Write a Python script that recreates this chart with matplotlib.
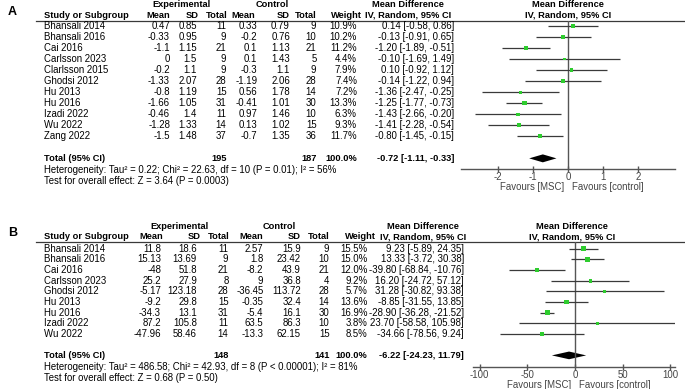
import matplotlib
matplotlib.use("Agg")
import matplotlib.pyplot as plt
import numpy as np

plt.rcParams['font.family'] = ['Liberation Sans', 'DejaVu Sans']

# ---- Panel A data ----
studiesA = ["Bhansali 2014", "Bhansali 2016", "Cai 2016", "Carlsson 2023", "Clarlsson 2015",
            "Ghodsi 2012", "Hu 2013", "Hu 2016", "Izadi 2022", "Wu 2022", "Zang 2022"]
expMeanA = [0.47, -0.33, -1.1, 0, -0.2, -1.33, -0.8, -1.66, -0.46, -1.28, -1.5]
expSdA = [0.85, 0.95, 1.15, 1.5, 1.1, 2.07, 1.19, 1.05, 1.4, 1.33, 1.48]
expNA = [11, 9, 21, 9, 9, 28, 15, 31, 11, 14, 37]
ctlMeanA = [0.33, -0.2, 0.1, 0.1, -0.3, -1.19, 0.56, -0.41, 0.97, 0.13, -0.7]
ctlSdA = [0.79, 0.76, 1.13, 1.43, 1.1, 2.06, 1.78, 1.01, 1.46, 1.02, 1.35]
ctlNA = [9, 10, 21, 5, 9, 28, 14, 30, 10, 15, 36]
weightA = [10.9, 10.2, 11.2, 4.4, 7.9, 7.4, 7.2, 13.3, 6.3, 9.3, 11.7]
mdA = [0.14, -0.13, -1.20, -0.10, 0.10, -0.14, -1.36, -1.25, -1.43, -1.41, -0.80]
loA = [-0.58, -0.91, -1.89, -1.69, -0.92, -1.22, -2.47, -1.77, -2.66, -2.28, -1.45]
hiA = [0.86, 0.65, -0.51, 1.49, 1.12, 0.94, -0.25, -0.73, -0.20, -0.54, -0.15]
totalA = {"expN": 195, "ctlN": 187, "md": -0.72, "lo": -1.11, "hi": -0.33}
hetA = "Heterogeneity: Tau\u00b2 = 0.22; Chi\u00b2 = 22.63, df = 10 (P = 0.01); I\u00b2 = 56%"
testA = "Test for overall effect: Z = 3.64 (P = 0.0003)"
ticksA = [-2, -1, 0, 1, 2]

# ---- Panel B data ----
studiesB = ["Bhansali 2014", "Bhansali 2016", "Cai 2016", "Carlsson 2023", "Ghodsi 2012",
            "Hu 2013", "Hu 2016", "Izadi 2022", "Wu 2022"]
expMeanB = [11.8, 15.13, -48, 25.2, -5.17, -9.2, -34.3, 87.2, -47.96]
expSdB = [18.6, 13.69, 51.8, 27.9, 123.18, 29.8, 13.1, 105.8, 58.46]
expNB = [11, 9, 21, 8, 28, 15, 31, 11, 14]
ctlMeanB = [2.57, 1.8, -8.2, 9, -36.45, -0.35, -5.4, 63.5, -13.3]
ctlSdB = [15.9, 23.42, 43.9, 36.8, 113.72, 32.4, 16.1, 86.3, 62.15]
ctlNB = [9, 10, 21, 4, 28, 14, 30, 10, 15]
weightB = [15.5, 15.0, 12.0, 9.2, 5.7, 13.6, 16.9, 3.8, 8.5]
mdB = [9.23, 13.33, -39.80, 16.20, 31.28, -8.85, -28.90, 23.70, -34.66]
loB = [-5.89, -3.72, -68.84, -24.72, -30.82, -31.55, -36.28, -58.58, -78.56]
hiB = [24.35, 30.38, -10.76, 57.12, 93.38, 13.85, -21.52, 105.98, 9.24]
totalB = {"expN": 148, "ctlN": 141, "md": -6.22, "lo": -24.23, "hi": 11.79}
hetB = "Heterogeneity: Tau\u00b2 = 486.58; Chi\u00b2 = 42.93, df = 8 (P < 0.00001); I\u00b2 = 81%"
testB = "Test for overall effect: Z = 0.68 (P = 0.50)"
ticksB = [-100, -50, 0, 50, 100]

W, H = 685, 389
fs = 6.9      # regular text
fsb = 6.7     # bold headers
lineCol = "#3a3a3a"
green = "#2ecc2e"

fig = plt.figure(figsize=(W / 100, H / 100), dpi=100)
bg = fig.add_axes([0, 0, 1, 1])
bg.set_xlim(0, W)
bg.set_ylim(H, 0)
bg.axis("off")


def fmt(v):
    return "%g" % v


def drawPanel(label, studies, expMean, expSd, expN, ctlMean, ctlSd, ctlN, weight, md, lo, hi,
              total, het, test, ticks, lay):
    y0, dy = lay["y0"], lay["dy"]
    lineY, axisY = lay["lineY"], lay["axisY"]
    c = lay["cols"]
    hc = lay["hcols"]

    # panel label and headers
    bg.text(8, lineY - 9, label, fontsize=9, fontweight="bold", va="center")
    hdr = dict(fontsize=fsb, fontweight="bold", va="center")
    bg.text(lay["expC"], lineY - 16, "Experimental", ha="center", **hdr)
    bg.text(lay["ctlC"], lineY - 16, "Control", ha="center", **hdr)
    bg.text(lay["mdC"], lineY - 16, "Mean Difference", ha="center", **hdr)
    bg.text(lay["mdC"], lineY - 5.5, "IV, Random, 95% CI", ha="center", **hdr)
    bg.text(lay["plotC"], lineY - 16, "Mean Difference", ha="center", **hdr)
    bg.text(lay["plotC"], lineY - 5.5, "IV, Random, 95% CI", ha="center", **hdr)
    bg.text(44, lineY - 5.5, "Study or Subgroup", **hdr)
    for x, t in zip(hc, ["Mean", "SD", "Total", "Mean", "SD", "Total", "Weight"]):
        bg.text(x, lineY - 5.5, t, ha="right", **hdr)
    bg.plot([36, W], [lineY, lineY], color=lineCol, lw=0.9)

    # study rows
    for i in range(len(studies)):
        y = y0 + dy * i
        bg.text(44, y, studies[i], fontsize=fs, va="center")
        vals = [fmt(expMean[i]), fmt(expSd[i]), str(expN[i]), fmt(ctlMean[i]), fmt(ctlSd[i]),
                str(ctlN[i]), "%.1f%%" % weight[i], "%.2f [%.2f, %.2f]" % (md[i], lo[i], hi[i])]
        for x, t in zip(c, vals):
            bg.text(x, y, t, fontsize=fs, ha="right", va="center")

    # total row
    nTot = len(studies) + 1
    yt = y0 + dy * nTot
    bold = dict(fontsize=fsb, fontweight="bold", va="center")
    bg.text(44, yt, "Total (95% CI)", **bold)
    bg.text(c[2], yt, str(total["expN"]), ha="right", **bold)
    bg.text(c[5], yt, str(total["ctlN"]), ha="right", **bold)
    bg.text(c[6], yt, "100.0%", ha="right", **bold)
    bg.text(c[7], yt, "%.2f [%.2f, %.2f]" % (total["md"], total["lo"], total["hi"]), ha="right", **bold)
    bg.text(44, yt + 12, het, fontsize=fs, va="center")
    bg.text(44, yt + 22.5, test, fontsize=fs, va="center")

    # forest axes
    xl, xr = lay["axX"]
    ax = fig.add_axes([xl / W, 1 - axisY / H, (xr - xl) / W, (axisY - lineY) / H])
    ax.patch.set_alpha(0)
    ax.set_xlim(*lay["xlim"])
    ax.set_ylim((axisY - y0) / dy, (lineY - y0) / dy)
    for s in ["top", "right", "left"]:
        ax.spines[s].set_visible(False)
    ax.spines["bottom"].set_color("#555555")
    ax.spines["bottom"].set_linewidth(1.0)
    ax.set_yticks([])
    ax.set_xticks(ticks)
    ax.set_xticklabels([str(t) for t in ticks])
    ax.tick_params(axis="x", direction="inout", length=5, width=1.0, color="#555555",
                   labelsize=fs, labelcolor="#444444", pad=-0.5)
    ax.axvline(0, color="#555555", lw=1.0)

    rows = np.arange(len(studies))
    ax.hlines(rows, lo, hi, color=lineCol, lw=0.9)
    ax.scatter(md, rows, s=np.array(weight) * 0.8, marker="s", color=green, zorder=3, linewidths=0)
    h = 0.36
    ax.fill([total["lo"], total["md"], total["hi"], total["md"]],
            [nTot, nTot - h, nTot, nTot + h], color="black", lw=0)

    # favours labels
    zx = xl + (0 - lay["xlim"][0]) / (lay["xlim"][1] - lay["xlim"][0]) * (xr - xl)
    bg.text(zx - 4, axisY + 17.5, "Favours [MSC]", fontsize=fs, color="#444444", ha="right", va="center")
    bg.text(zx + 4, axisY + 17.5, "Favours [control]", fontsize=fs, color="#444444", ha="left", va="center")


layA = {"y0": 26.0, "dy": 11.03, "lineY": 20.7, "axisY": 169.0,
        "cols": [170, 197, 226.5, 257.5, 290, 316.5, 357, 454],
        "hcols": [170, 199, 228, 255, 290, 317, 362],
        "expC": 182, "ctlC": 272.5, "mdC": 408, "plotC": 568,
        "axX": (461, 675), "xlim": (-3.06, 3.06)}
layB = {"y0": 248.7, "dy": 10.67, "lineY": 242.3, "axisY": 367.3,
        "cols": [161, 197, 228.5, 263.5, 301, 329.5, 367.5, 464],
        "hcols": [163, 201, 229.5, 263, 301, 329.5, 376],
        "expC": 179.5, "ctlC": 279.5, "mdC": 423, "plotC": 572,
        "axX": (473.3, 675), "xlim": (-106.7, 105.0)}

drawPanel("A", studiesA, expMeanA, expSdA, expNA, ctlMeanA, ctlSdA, ctlNA, weightA, mdA, loA, hiA,
          totalA, hetA, testA, ticksA, layA)
drawPanel("B", studiesB, expMeanB, expSdB, expNB, ctlMeanB, ctlSdB, ctlNB, weightB, mdB, loB, hiB,
          totalB, hetB, testB, ticksB, layB)

fig.savefig("out.png", dpi=100)
